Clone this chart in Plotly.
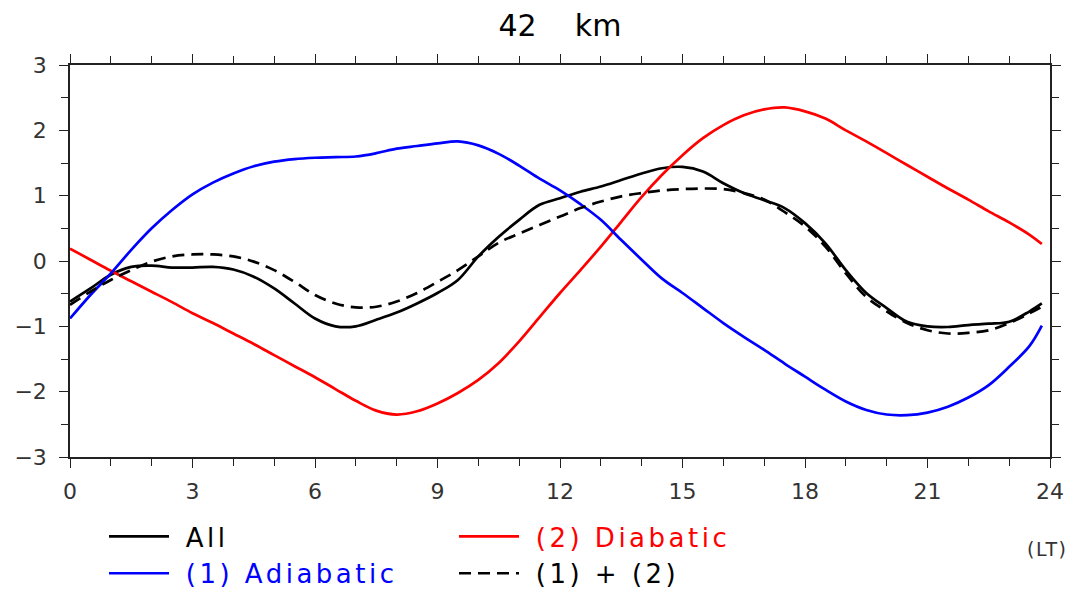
import plotly.graph_objects as go

hours = [0, 0.5, 1, 1.5, 2, 2.5, 3, 3.5, 4, 4.5, 5, 5.5, 6, 6.5, 7, 7.5, 8, 8.5,
         9, 9.5, 10, 10.5, 11, 11.5, 12, 12.5, 13, 13.5, 14, 14.5, 15, 15.5, 16,
         16.5, 17, 17.5, 18, 18.5, 19, 19.5, 20, 20.5, 21, 21.5, 22, 22.5, 23,
         23.5, 23.8]

all_vals = [-0.62, -0.42, -0.21, -0.09, -0.07, -0.10, -0.10, -0.09, -0.13, -0.24,
            -0.42, -0.65, -0.88, -1.00, -1.00, -0.90, -0.79, -0.65, -0.49, -0.29,
            0.07, 0.37, 0.63, 0.86, 0.96, 1.06, 1.14, 1.24, 1.34, 1.42, 1.44, 1.37,
            1.19, 1.04, 0.93, 0.81, 0.58, 0.27, -0.14, -0.49, -0.72, -0.93, -1.00,
            -1.01, -0.98, -0.96, -0.93, -0.77, -0.65]

adiabatic = [-0.88, -0.52, -0.19, 0.17, 0.50, 0.78, 1.02, 1.20, 1.34, 1.45, 1.52,
             1.56, 1.58, 1.59, 1.60, 1.65, 1.72, 1.76, 1.80, 1.83, 1.77, 1.64, 1.46,
             1.26, 1.08, 0.87, 0.63, 0.32, 0.02, -0.27, -0.49, -0.72, -0.95, -1.16,
             -1.36, -1.57, -1.77, -1.97, -2.15, -2.28, -2.35, -2.36, -2.32, -2.23,
             -2.09, -1.90, -1.62, -1.30, -0.99]

diabatic = [0.19, 0.02, -0.15, -0.31, -0.47, -0.63, -0.80, -0.95, -1.11, -1.27,
            -1.44, -1.61, -1.78, -1.96, -2.14, -2.29, -2.35, -2.30, -2.18, -2.02,
            -1.82, -1.56, -1.23, -0.86, -0.49, -0.14, 0.22, 0.60, 0.98, 1.32, 1.62,
            1.88, 2.08, 2.23, 2.32, 2.35, 2.29, 2.18, 2.00, 1.83, 1.65, 1.47, 1.29,
            1.11, 0.94, 0.76, 0.59, 0.40, 0.26]

sum12 = [-0.67, -0.47, -0.29, -0.14, -0.01, 0.07, 0.10, 0.10, 0.07, -0.01, -0.14,
         -0.32, -0.52, -0.65, -0.71, -0.70, -0.62, -0.49, -0.32, -0.14, 0.07, 0.28,
         0.42, 0.55, 0.68, 0.81, 0.91, 0.99, 1.04, 1.08, 1.10, 1.11, 1.10, 1.04,
         0.94, 0.75, 0.53, 0.22, -0.19, -0.55, -0.77, -0.95, -1.06, -1.11, -1.10,
         -1.06, -0.95, -0.80, -0.70]

x_ticks = [0, 3, 6, 9, 12, 15, 18, 21, 24]
y_ticks = [-3, -2, -1, 0, 1, 2, 3]

FONT = "DejaVu Sans, Verdana, sans-serif"
NB = "\u00a0"


def lbl(text, color):
    return f"<span style='color:{color};letter-spacing:3.5px'>{NB}{text}</span>"


fig = go.Figure()
fig.add_trace(go.Scatter(x=hours, y=all_vals, mode="lines", line_shape="spline",
                         line=dict(color="black", width=2.7),
                         name=lbl("All", "black")))
fig.add_trace(go.Scatter(x=hours, y=diabatic, mode="lines", line_shape="spline",
                         line=dict(color="#ff0000", width=2.7),
                         name=lbl("(2)" + NB + "Diabatic", "#ff0000")))
fig.add_trace(go.Scatter(x=hours, y=adiabatic, mode="lines", line_shape="spline",
                         line=dict(color="#0000ff", width=2.7),
                         name=lbl("(1)" + NB + "Adiabatic", "#0000ff")))
fig.add_trace(go.Scatter(x=hours, y=sum12, mode="lines", line_shape="spline",
                         line=dict(color="black", width=2.7, dash="12px,7px"),
                         name=lbl("(1)" + NB + "+" + NB + "(2)", "black")))

axis_common = dict(showgrid=False, zeroline=False, showline=True, linecolor="#222",
                   linewidth=1.5, mirror="allticks", ticks="outside", ticklen=9,
                   tickwidth=1.3, tickcolor="#222",
                   tickfont=dict(family=FONT, size=22, color="#333"))

fig.update_xaxes(range=[0, 24], tickvals=x_ticks, ticktext=[str(t) for t in x_ticks],
                 ticklabelstandoff=5,
                 minor=dict(dtick=1, ticks="outside", ticklen=7, tickcolor="#222",
                            tickwidth=1.2),
                 **axis_common)
fig.update_yaxes(range=[-3, 3], tickvals=y_ticks,
                 ticktext=[("\u2212" + str(-t)) if t < 0 else str(t) for t in y_ticks],
                 ticklabelstandoff=8,
                 minor=dict(dtick=0.5, ticks="outside", ticklen=7, tickcolor="#222",
                            tickwidth=1.2),
                 **axis_common)

fig.update_layout(
    width=1067, height=587,
    margin=dict(l=62, r=25, t=57, b=138, autoexpand=False),
    plot_bgcolor="white", paper_bgcolor="white",
    title=dict(text="42" + NB * 3 + " km", x=0.5, xref="paper", xanchor="center",
               y=0.971, yanchor="middle",
               font=dict(family=FONT, size=30, color="black")),
    showlegend=True,
    legend=dict(orientation="h", x=0.0347, xanchor="left", y=-0.143, yanchor="top",
                entrywidth=275, entrywidthmode="pixels", traceorder="normal",
                font=dict(family=FONT, size=26, color="black"),
                bgcolor="rgba(0,0,0,0)", itemwidth=60),
    annotations=[dict(text="<span style='letter-spacing:1.5px'>(LT)</span>",
                      xref="paper", yref="paper", x=0.997, y=-0.235,
                      xanchor="center", yanchor="middle", showarrow=False,
                      font=dict(family=FONT, size=19, color="#333"))],
)

fig.write_html("out.html")
